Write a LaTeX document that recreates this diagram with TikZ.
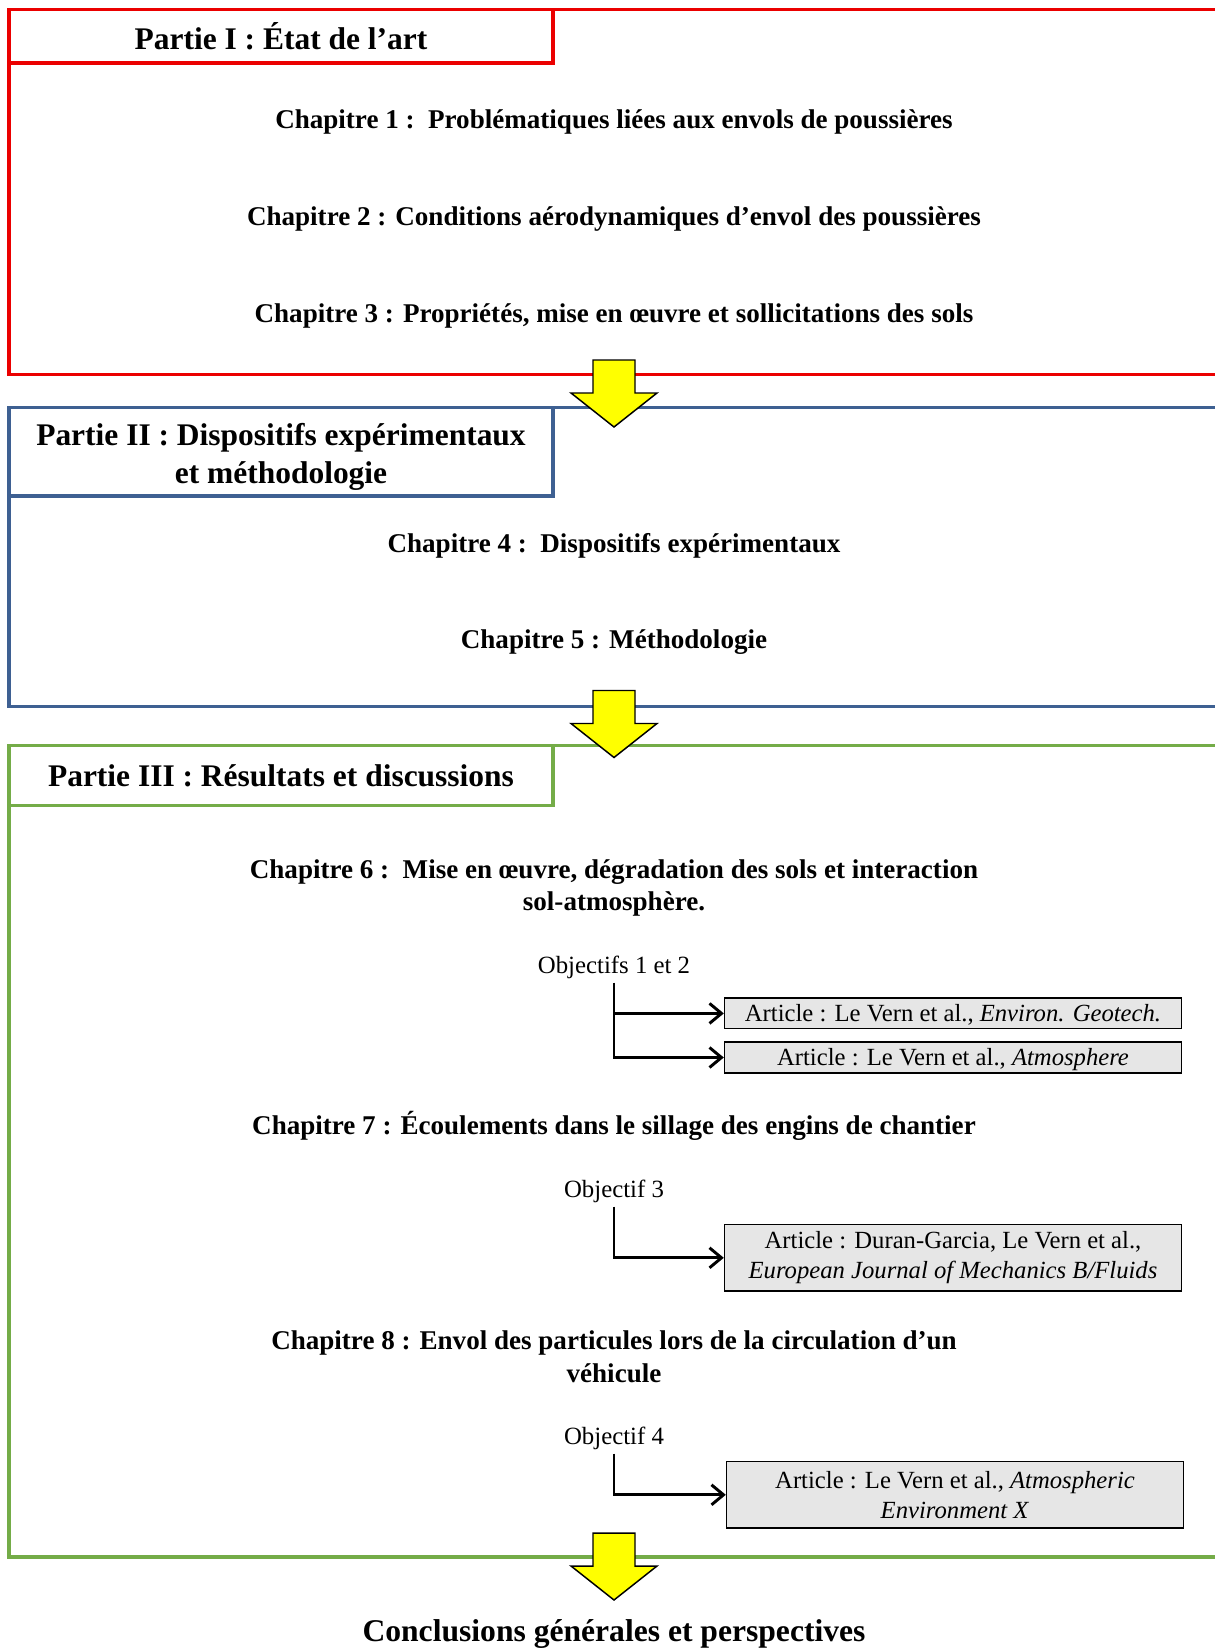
\documentclass[tikz,border=0pt]{standalone}
\usepackage{fontspec}
\setmainfont{Liberation Serif}
\usetikzlibrary{arrows.meta}
\definecolor{pred}{RGB}{235,0,0}
\definecolor{pblue}{RGB}{62,96,146}
\definecolor{pgreen}{RGB}{116,172,72}
\definecolor{boxgray}{RGB}{230,230,230}
\definecolor{ayellow}{RGB}{255,255,0}
\begin{document}
\begin{tikzpicture}[x=0.75pt,y=-0.75pt,
  frameline/.style={line width=2.5pt},
  titlebox/.style={draw, line width=2.8pt, fill=white, inner sep=0pt, minimum width=408pt},
  titletext/.style={font=\fontsize{23.6}{28.5}\selectfont\bfseries, align=center, inner sep=0pt},
  chap/.style={font=\fontsize{20.3}{24.5}\selectfont\bfseries, align=center, inner sep=2pt},
  objtext/.style={font=\fontsize{18.6}{20}\selectfont, inner sep=3pt},
  article/.style={draw, line width=1.1pt, fill=boxgray, inner sep=0pt, minimum width=342.7pt,
    font=\fontsize{18.5}{22.8}\selectfont, align=center},
  oneline/.style={text height=16pt, text depth=4pt},
  conn/.style={line width=2.2pt, -{Straight Barb[length=9pt,width=15pt,line width=2.2pt]}},
  bigarrow/.pic={\draw[fill=ayellow, line width=1.1pt, line join=miter]
    (-21,0) -- (21,0) -- (21,33) -- (43,33) -- (0,67) -- (-43,33) -- (-21,33) -- cycle;}
]
\useasboundingbox (0,0) rectangle (1214,1651);

% ---------- Partie I ----------
\draw[frameline, pred] (1230,9.5) -- (9,9.5) -- (9,374.8) -- (1230,374.8);
\node[titlebox, draw=pred, minimum height=40.3pt] (t1box) at (281,36.4) {};
\node[titletext] (t1) at (281,36) {Partie I : État de l’art};
\node[chap] (c1) at (614,122) {Chapitre 1 :\ \ Problématiques liées aux envols de poussières};
\node[chap] (c2) at (614,219) {Chapitre 2 : Conditions aérodynamiques d’envol des poussières};
\node[chap] (c3) at (614,315.7) {Chapitre 3 : Propriétés, mise en œuvre et sollicitations des sols};

% ---------- Partie II ----------
\draw[frameline, pblue] (1230,407.5) -- (9,407.5) -- (9,706.5) -- (1230,706.5);
\node[titlebox, draw=pblue, minimum height=66.4pt] (t2box) at (281,451.8) {};
\node[titletext] (t2) at (281,457) {Partie II : Dispositifs expérimentaux\\et méthodologie};
\node[chap] (c4) at (614,546) {Chapitre 4 :\ \ Dispositifs expérimentaux};
\node[chap] (c5) at (614,642) {Chapitre 5 : Méthodologie};

% ---------- Partie III ----------
\draw[frameline, pgreen] (1230,745.5) -- (9,745.5) -- (9,1557) -- (1230,1557);
\node[titlebox, draw=pgreen, minimum height=45pt] (t3box) at (281,775.5) {};
\node[titletext] (t3) at (281,776) {Partie III : Résultats et discussions};
\node[chap] (c6) at (614,888) {Chapitre 6 :\ \ Mise en œuvre, dégradation des sols et interaction\\sol-atmosphère.};
\node[objtext] (o1) at (614,967) {Objectifs 1 et 2};
\node[article, oneline, minimum height=23pt] (a1) at (953,1013.4) {Article : Le Vern et al., \textit{Environ. Geotech.}};
\node[article, oneline, minimum height=23.2pt] (a2) at (953,1057.5) {Article : Le Vern et al., \textit{Atmosphere}};
\draw[conn] (o1.south) |- (a2.west);
\draw[conn] (o1.south |- a1.west) -- (a1.west);

\node[chap] (c7) at (614,1125.6) {Chapitre 7 : Écoulements dans le sillage des engins de chantier};
\node[objtext] (o3) at (614,1191) {Objectif 3};
\node[article, minimum height=49.8pt] (a3) at (953,1257.8) {Article : Duran-Garcia, Le Vern et al.,\\\textit{European Journal of Mechanics B/Fluids}};
\draw[conn] (o3.south) |- (a3.west);

\node[chap] (c8) at (614,1357) {Chapitre 8 : Envol des particules lors de la circulation d’un\\véhicule};
\node[objtext] (o4) at (614,1438) {Objectif 4};
\node[article, minimum height=49.8pt] (a4) at (955,1494.8) {Article : Le Vern et al., \textit{Atmospheric}\\\textit{Environment X}};
\draw[conn] (o4.south) |- (a4.west);

% ---------- transition arrows ----------
\pic at (614,360) {bigarrow};
\pic at (614,690.5) {bigarrow};
\pic at (614,1533) {bigarrow};

\node[font=\fontsize{23.7}{28}\selectfont\bfseries, inner sep=0pt] (concl) at (614,1634) {Conclusions générales et perspectives};
\end{tikzpicture}
\end{document}
